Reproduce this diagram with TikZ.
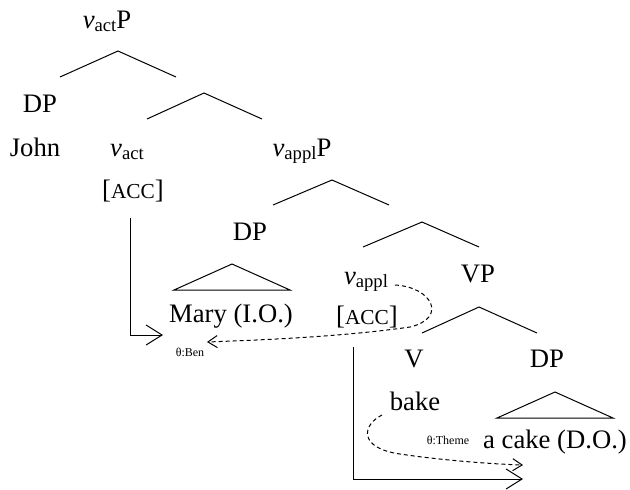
\documentclass[tikz,border=0pt]{standalone}
\usepackage{fontspec}
\setmainfont{Liberation Serif}
\usetikzlibrary{arrows.meta}
\newcommand{\lv}[1]{\textit{v}\raisebox{-0.25ex}{\fontsize{14}{14}\selectfont #1}}
\newcommand{\caseacc}{[{\fontsize{16}{16}\selectfont ACC}]}
\begin{document}
\begin{tikzpicture}[x=0.75pt, y=-0.75pt, line width=0.75pt,
  lbl/.style={inner sep=0pt, anchor=base, font=\fontsize{20}{24}\selectfont},
  thetalbl/.style={inner sep=0pt, anchor=base, font=\fontsize{9}{10}\selectfont},
  caseline/.style={-{Straight Barb[length=12pt, width=15pt]}},
  thetaline/.style={dash pattern=on 3pt off 2.25pt, -{Straight Barb[length=7pt, width=9pt]}}]
\useasboundingbox (0,0) rectangle (630,489);
\node[lbl] (vactP) at (107,28) {\lv{act}P};
\node[lbl] (spec) at (40,112) {DP};
\node[lbl] (john) at (35,156) {John};
\node[lbl] (vact) at (127,156) {\lv{act}};
\node[lbl] (vapplP) at (302,156) {\lv{appl}P};
\node[lbl] (acc1) at (133,198) {\caseacc};
\node[lbl] (io) at (250,240) {DP};
\node[lbl] (mary) at (231,322) {Mary (I.O.)};
\node[lbl] (vappl) at (366,284) {\lv{appl}};
\node[lbl] (vp) at (478,282) {VP};
\node[lbl] (acc2) at (367,324) {\caseacc};
\node[lbl] (verb) at (414,367) {V};
\node[lbl] (do) at (547,367) {DP};
\node[lbl] (bake) at (415,410) {bake};
\node[lbl] (cake) at (555,448) {a cake (D.O.)};
\node[thetalbl] (ben) at (190,356) {θ:Ben};
\node[thetalbl] (theme) at (448,444) {θ:Theme};
% branches
\coordinate (b1) at (118,51);
\coordinate (b2) at (204,93);
\coordinate (b3) at (332,180);
\coordinate (b4) at (422,222);
\coordinate (b5) at (479,307);
\draw (b1) ++(-58,26) -- (b1) -- ++(58,26);
\draw (b2) ++(-57,26) -- (b2) -- ++(58,26);
\draw (b3) ++(-59,25) -- (b3) -- ++(57,25);
\draw (b4) ++(-59,25) -- (b4) -- ++(57,25);
\draw (b5) ++(-57,26) -- (b5) -- ++(58,26);
% triangles
\coordinate (t1) at (232,264);
\coordinate (t2) at (555,392);
\draw (t1) -- ++(-58,26) -- ++(116,0) -- cycle;
\draw (t2) -- ++(-58,26) -- ++(116,0) -- cycle;
% case assignment
\coordinate (acc1foot) at (130,218);
\coordinate (iotip) at (163,335);
\coordinate (acc2foot) at (353,347);
\coordinate (dotip) at (523,479);
\draw[caseline] (acc1foot) |- (iotip);
\draw[caseline] (acc2foot) |- (dotip);
% theta roles
\coordinate (vapplout) at (395,285);
\coordinate (bentip) at (207,342);
\coordinate (bakeout) at (382,415);
\coordinate (themetip) at (523,465);
\draw[thetaline] (vapplout) .. controls (432,287) and (448,318) .. (410,327)
  .. controls (340,337) and (260,340) .. (bentip);
\draw[thetaline] (bakeout) .. controls (362,425) and (358,448) .. (400,454)
  .. controls (440,460) and (490,464) .. (themetip);
\end{tikzpicture}
\end{document}
